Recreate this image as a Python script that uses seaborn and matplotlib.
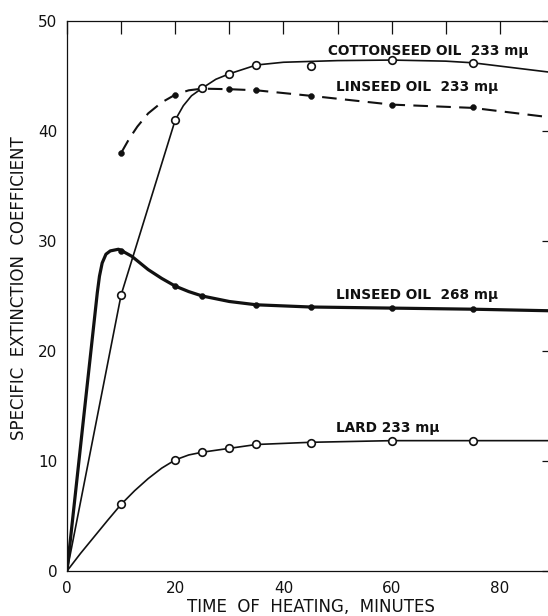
import seaborn as sns
import matplotlib
matplotlib.use("Agg")
import matplotlib.pyplot as plt
import pandas as pd

# measured points (minutes, specific extinction coefficient)
cotton_t = [10, 20, 25, 30, 35, 45, 60, 75]
cotton_k = [25.1, 41.0, 43.9, 45.2, 46.0, 45.9, 46.45, 46.2]
lin233_t = [10, 20, 25, 30, 35, 45, 60, 75]
lin233_k = [38.0, 43.3, 43.85, 43.8, 43.7, 43.2, 42.4, 42.2]
lin268_t = [10, 20, 25, 35, 45, 60, 75]
lin268_k = [29.1, 25.9, 25.0, 24.2, 24.0, 23.9, 23.8]
lard_t = [10, 20, 25, 30, 35, 45, 60, 75]
lard_k = [6.06, 10.1, 10.8, 11.15, 11.55, 11.67, 11.85, 11.85]

# hand drawn curves
cotton_curve_t = [0, 10, 20, 21.5, 23, 25, 27.5, 30, 35, 40, 50, 60, 70, 75, 80, 90]
cotton_curve_k = [0, 25.1, 41.0, 42.3, 43.2, 43.9, 44.7, 45.2, 46.0, 46.25, 46.4, 46.45, 46.35, 46.2, 45.9, 45.3]
lin233_curve_t = [10, 11.5, 13, 15, 17.5, 20, 22.5, 25, 30, 35, 45, 60, 75, 90]
lin233_curve_k = [38.0, 39.3, 40.4, 41.6, 42.6, 43.3, 43.7, 43.85, 43.8, 43.7, 43.2, 42.4, 42.1, 41.2]
lin268_curve_t = [0, 3, 5.6, 6, 6.5, 7.2, 8, 9.5, 10, 12, 15, 17.5, 20, 22.5, 25, 30, 35, 45, 60, 75, 90]
lin268_curve_k = [0, 13.6, 25.3, 26.8, 28.0, 28.8, 29.1, 29.25, 29.15, 28.6, 27.4, 26.6, 25.9, 25.4, 25.0, 24.5, 24.2, 24.0, 23.9, 23.8, 23.65]
lard_curve_t = [0, 2.5, 5, 7.5, 10, 12.5, 15, 17.5, 20, 22.5, 25, 30, 35, 45, 60, 75, 90]
lard_curve_k = [0, 1.6, 3.1, 4.6, 6.06, 7.3, 8.4, 9.35, 10.1, 10.55, 10.8, 11.15, 11.5, 11.7, 11.85, 11.85, 11.85]

curve_labels = ["COTTONSEED OIL  233 m\u03bc", "LINSEED OIL  233 m\u03bc",
                "LINSEED OIL  268 m\u03bc", "LARD 233 m\u03bc"]
x_ticks = [0, 10, 20, 30, 40, 50, 60, 70, 80, 90]
x_tick_labels = ["0", "", "20", "", "40", "", "60", "", "80", ""]
y_ticks = [0, 10, 20, 30, 40, 50]

sns.set_theme(style="white")
plt.rcParams["font.family"] = ["DejaVu Sans"]
ink = "#111111"

fig = plt.figure(figsize=(5.48, 6.16), dpi=100)
ax = fig.add_axes([67 / 548, 45 / 616, 487 / 548, 550 / 616])

sns.lineplot(x=cotton_curve_t, y=cotton_curve_k, sort=False, color=ink, lw=1.2, ax=ax)
sns.lineplot(x=lin233_curve_t, y=lin233_curve_k, sort=False, color=ink, lw=1.5,
             linestyle=(0, (7, 4)), ax=ax)
sns.lineplot(x=lin268_curve_t, y=lin268_curve_k, sort=False, color=ink, lw=2.3, ax=ax)
sns.lineplot(x=lard_curve_t, y=lard_curve_k, sort=False, color=ink, lw=1.2, ax=ax)

# filled dots
sns.scatterplot(x=lin233_t, y=lin233_k, color=ink, s=18, edgecolor=ink, zorder=4, ax=ax)
sns.scatterplot(x=lin268_t, y=lin268_k, color=ink, s=18, edgecolor=ink, zorder=4, ax=ax)
# open circles
sns.scatterplot(x=cotton_t, y=cotton_k, color="white", s=30, edgecolor=ink,
                linewidth=1.2, zorder=5, ax=ax)
sns.scatterplot(x=lard_t, y=lard_k, color="white", s=30, edgecolor=ink,
                linewidth=1.2, zorder=5, ax=ax)

lab_kw = dict(fontsize=9.8, fontweight="bold", color=ink, ha="left", va="center")
ax.text(48.3, 47.3, curve_labels[0], **lab_kw)
ax.text(49.8, 44.0, curve_labels[1], **lab_kw)
ax.text(49.8, 25.1, curve_labels[2], **lab_kw)
ax.text(49.8, 13.0, curve_labels[3], **lab_kw)

ax.set_xlim(0, 90)
ax.set_ylim(0, 50)
ax.set_xticks(x_ticks)
ax.set_xticklabels(x_tick_labels)
ax.set_yticks(y_ticks)
ax.tick_params(direction="in", length=9, width=0.9, color=ink, labelcolor=ink,
               labelsize=11, top=True, right=True, pad=7)
for sp in ax.spines.values():
    sp.set_linewidth(0.9)
    sp.set_color(ink)

ax.set_xlabel("TIME  OF  HEATING,  MINUTES", fontsize=12, color=ink)
ax.set_ylabel("SPECIFIC  EXTINCTION  COEFFICIENT", fontsize=12, color=ink)
ax.xaxis.set_label_coords(0.5, -0.05)
ax.yaxis.set_label_coords(-0.08, 0.515)

fig.savefig("out.png", dpi=100)
